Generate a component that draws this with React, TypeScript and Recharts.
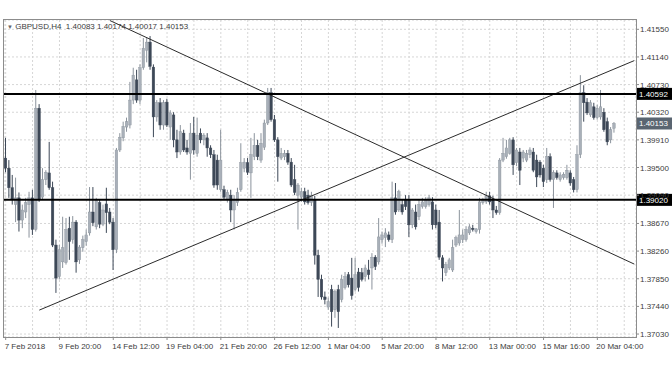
import React from 'react'
import {
  ComposedChart,
  Bar,
  XAxis,
  YAxis,
  CartesianGrid,
  ReferenceLine,
} from 'recharts'

// GBPUSD H4 candles, 7 Feb 2018 00:00 onwards
const opens = [
  1.3964, 1.3949, 1.3920, 1.3895, 1.3905, 1.3872, 1.3884, 1.3895, 1.3905, 1.3858,
  1.4038, 1.3906, 1.3932, 1.3942, 1.3920, 1.3835, 1.3788, 1.3810, 1.3809, 1.3860,
  1.3843, 1.3869, 1.3813, 1.3831, 1.3840, 1.3853, 1.3884, 1.3862, 1.3898, 1.3866,
  1.3896, 1.3884, 1.3869, 1.3828, 1.3976, 1.3994, 1.4010, 1.4013, 1.4050, 1.4080,
  1.4050, 1.4098, 1.4124, 1.4136, 1.4099, 1.4025, 1.4046, 1.4013, 1.4047, 1.4010,
  1.4028, 1.3991, 1.3973, 1.4001, 1.3979, 1.3971, 1.4001, 1.3971, 1.4001, 1.3991,
  1.3994, 1.3979, 1.3969, 1.3961, 1.3917, 1.3917, 1.3902, 1.3909, 1.3887, 1.3898,
  1.3917, 1.3949, 1.3957, 1.3942, 1.3966, 1.3983, 1.3961, 1.3980, 1.4016, 1.4061,
  1.4021, 1.3991, 1.3964, 1.3966, 1.3971, 1.3958, 1.3932, 1.3909, 1.3906, 1.3914,
  1.3909, 1.3898, 1.3902, 1.3820, 1.3784, 1.3758, 1.3743, 1.3769, 1.3739, 1.3769,
  1.3754, 1.3772, 1.3791, 1.3786, 1.3769, 1.3795, 1.3794, 1.3788, 1.3798, 1.3801,
  1.3817, 1.3810, 1.3843, 1.3846, 1.3850, 1.3843, 1.3905, 1.3887, 1.3895, 1.3902,
  1.3902, 1.3865, 1.3884, 1.3877, 1.3892, 1.3892, 1.3895, 1.3899, 1.3887, 1.3869,
  1.3816, 1.3794, 1.3801, 1.3798, 1.3835, 1.3838, 1.3843, 1.3843, 1.3853, 1.3860,
  1.3855, 1.3858, 1.3898, 1.3899, 1.3908, 1.3902, 1.3887, 1.3883, 1.3961, 1.3966,
  1.3971, 1.3991, 1.3957, 1.3973, 1.3964, 1.3961, 1.3969, 1.3973, 1.3961, 1.3958,
  1.3949, 1.3932, 1.3966, 1.3932, 1.3942, 1.3932, 1.3935, 1.3935, 1.3942, 1.3932,
  1.3917, 1.3969, 1.4061, 1.4047, 1.4028, 1.4040, 1.4024, 1.4025, 1.4032, 1.4018,
  1.3991, 1.40083,
]
const highs = [
  1.3994, 1.3961, 1.3939, 1.3935, 1.3913, 1.3895, 1.3905, 1.3914, 1.3917, 1.4065,
  1.4044, 1.3949, 1.3946, 1.3988, 1.3929, 1.3843, 1.3835, 1.3877, 1.3875, 1.3877,
  1.3878, 1.3872, 1.3835, 1.3849, 1.3858, 1.3921, 1.3921, 1.3905, 1.3902, 1.3895,
  1.3920, 1.3890, 1.3875, 1.3979, 1.4001, 1.4018, 1.4024, 1.4077, 1.4098, 1.4095,
  1.4103, 1.4142, 1.4143, 1.4145, 1.4103, 1.4050, 1.4053, 1.4050, 1.4052, 1.4035,
  1.4032, 1.4006, 1.4013, 1.4006, 1.3991, 1.4016, 1.4025, 1.4024, 1.4008, 1.4001,
  1.4001, 1.3983, 1.3976, 1.3969, 1.4006, 1.3923, 1.3917, 1.3917, 1.3909, 1.3920,
  1.3986, 1.3964, 1.3964, 1.3994, 1.4001, 1.3991, 1.4001, 1.4021, 1.4068, 1.4068,
  1.4028, 1.3995, 1.3979, 1.3976, 1.3976, 1.3964, 1.3954, 1.3927, 1.3920, 1.3920,
  1.3917, 1.3914, 1.3908, 1.3828, 1.3791, 1.3766, 1.3757, 1.3776, 1.3769, 1.3776,
  1.3791, 1.3795, 1.3795, 1.3816, 1.3816, 1.3801, 1.3801, 1.3806, 1.3813, 1.3823,
  1.3820, 1.3875, 1.3855, 1.3860, 1.3855, 1.3929, 1.3927, 1.3917, 1.3902, 1.3909,
  1.3909, 1.3890, 1.3895, 1.3902, 1.3905, 1.3906, 1.3909, 1.3906, 1.3895, 1.3887,
  1.3820, 1.3810, 1.3816, 1.3843, 1.3849, 1.3887, 1.3858, 1.3863, 1.3866, 1.3865,
  1.3860, 1.3905, 1.3905, 1.3914, 1.3914, 1.3908, 1.3893, 1.3964, 1.3994, 1.3991,
  1.3994, 1.3995, 1.3979, 1.3979, 1.3976, 1.3976, 1.3980, 1.3979, 1.3969, 1.3961,
  1.3954, 1.3979, 1.3971, 1.3946, 1.3946, 1.3943, 1.3943, 1.3954, 1.3946, 1.3936,
  1.3983, 1.4087, 1.4072, 1.4053, 1.4050, 1.4046, 1.4043, 1.4065, 1.4038, 1.4024,
  1.4010, 1.40174,
]
const lows = [
  1.3943, 1.3905, 1.3895, 1.3869, 1.3855, 1.3860, 1.3875, 1.3846, 1.3850, 1.3855,
  1.3899, 1.3902, 1.3924, 1.3917, 1.3832, 1.3764, 1.3784, 1.3801, 1.3806, 1.3813,
  1.3837, 1.3794, 1.3807, 1.3825, 1.3834, 1.3849, 1.3863, 1.3858, 1.3860, 1.3863,
  1.3853, 1.3866, 1.3798, 1.3823, 1.3973, 1.3989, 1.4003, 1.4008, 1.4044, 1.4046,
  1.4044, 1.4095, 1.4106, 1.4095, 1.3995, 1.4018, 1.4006, 1.4006, 1.4010, 1.3991,
  1.3980, 1.3964, 1.3969, 1.3973, 1.3969, 1.3932, 1.3969, 1.3966, 1.3986, 1.3983,
  1.3966, 1.3964, 1.3920, 1.3917, 1.3914, 1.3902, 1.3898, 1.3869, 1.3858, 1.3893,
  1.3914, 1.3943, 1.3939, 1.3905, 1.3961, 1.3961, 1.3957, 1.3976, 1.4013, 1.4018,
  1.3988, 1.3929, 1.3961, 1.3961, 1.3954, 1.3921, 1.3909, 1.3858, 1.3899, 1.3895,
  1.3895, 1.3893, 1.3806, 1.3758, 1.3754, 1.3747, 1.3739, 1.3714, 1.3727, 1.3712,
  1.3750, 1.3769, 1.3772, 1.3754, 1.3766, 1.3766, 1.3781, 1.3781, 1.3784, 1.3769,
  1.3798, 1.3806, 1.3837, 1.3832, 1.3840, 1.3838, 1.3880, 1.3884, 1.3880, 1.3887,
  1.3847, 1.3860, 1.3858, 1.3872, 1.3889, 1.3889, 1.3892, 1.3858, 1.3860, 1.3813,
  1.3781, 1.3789, 1.3798, 1.3795, 1.3832, 1.3834, 1.3838, 1.3840, 1.3850, 1.3855,
  1.3852, 1.3852, 1.3895, 1.3896, 1.3895, 1.3875, 1.3880, 1.3880, 1.3958, 1.3963,
  1.3969, 1.3939, 1.3952, 1.3924, 1.3958, 1.3958, 1.3964, 1.3943, 1.3921, 1.3935,
  1.3921, 1.3927, 1.3929, 1.3890, 1.3932, 1.3929, 1.3932, 1.3932, 1.3923, 1.3913,
  1.3913, 1.3964, 1.4018, 1.4028, 1.4025, 1.4021, 1.4021, 1.4021, 1.4003, 1.3983,
  1.3986, 1.40017,
]
const closes = [
  1.3949, 1.3920, 1.3902, 1.3905, 1.3872, 1.3887, 1.3898, 1.3905, 1.3858, 1.4038,
  1.3902, 1.3932, 1.3943, 1.3920, 1.3835, 1.3786, 1.3828, 1.3831, 1.3858, 1.3840,
  1.3869, 1.3810, 1.3832, 1.3843, 1.3850, 1.3884, 1.3868, 1.3902, 1.3866, 1.3887,
  1.3883, 1.3869, 1.3828, 1.3976, 1.3995, 1.4011, 1.4018, 1.4050, 1.4087, 1.4050,
  1.4098, 1.4127, 1.4136, 1.4100, 1.4025, 1.4046, 1.4013, 1.4046, 1.4013, 1.4031,
  1.3991, 1.3973, 1.4003, 1.3976, 1.3973, 1.4001, 1.3976, 1.3998, 1.3991, 1.3998,
  1.3979, 1.3969, 1.3924, 1.3924, 1.3961, 1.3906, 1.3913, 1.3887, 1.3902, 1.3913,
  1.3957, 1.3958, 1.3943, 1.3969, 1.3983, 1.3966, 1.3986, 1.4016, 1.4061, 1.4021,
  1.3991, 1.3966, 1.3971, 1.3971, 1.3958, 1.3924, 1.3913, 1.3924, 1.3914, 1.3899,
  1.3898, 1.3909, 1.3820, 1.3784, 1.3758, 1.3754, 1.3751, 1.3736, 1.3766, 1.3736,
  1.3784, 1.3788, 1.3776, 1.3760, 1.3791, 1.3772, 1.3784, 1.3801, 1.3791, 1.3817,
  1.3803, 1.3847, 1.3850, 1.3853, 1.3843, 1.3905, 1.3884, 1.3914, 1.3884, 1.3892,
  1.3865, 1.3887, 1.3862, 1.3895, 1.3899, 1.3902, 1.3905, 1.3865, 1.3865, 1.3817,
  1.3801, 1.3806, 1.3813, 1.3831, 1.3846, 1.3850, 1.3850, 1.3858, 1.3862, 1.3858,
  1.3859, 1.3899, 1.3902, 1.3908, 1.3899, 1.3887, 1.3883, 1.3961, 1.3971, 1.3979,
  1.3991, 1.3954, 1.3976, 1.3946, 1.3973, 1.3971, 1.3976, 1.3946, 1.3936, 1.3939,
  1.3929, 1.3966, 1.3932, 1.3943, 1.3935, 1.3939, 1.3940, 1.3946, 1.3927, 1.3917,
  1.3969, 1.4061, 1.4046, 1.4031, 1.4046, 1.4024, 1.4038, 1.4040, 1.4006, 1.3988,
  1.4006, 1.40153,
]

// one time label every 16 bars, starting at bar 0
const dateLabels = [
  '7 Feb 2018', '9 Feb 20:00', '14 Feb 12:00', '19 Feb 04:00', '21 Feb 20:00', '26 Feb 12:00',
  '1 Mar 04:00', '5 Mar 20:00', '8 Mar 12:00', '13 Mar 00:00', '15 Mar 16:00', '20 Mar 04:00',
]
const priceTicks = [
  1.37030, 1.37440, 1.37850, 1.38260, 1.38670, 1.39090,
  1.39500, 1.39910, 1.40320, 1.40730, 1.41140, 1.41550,
]
const levelLines = [1.40592, 1.39020]
const lastPrice = 1.40153
const headerText = 'GBPUSD,H4  1.40083 1.40174 1.40017 1.40153'

// trendlines as (bar index, price) pairs
const fallingLine = [{ x: 31, y: 1.4168 }, { x: 187, y: 1.38067 }]
const risingLine = [{ x: 10, y: 1.37385 }, { x: 187, y: 1.41086 }]

const SLOTS = 188
const LABEL_EVERY = 16
const GRID_EVERY = 8
const PRICE_MIN = 1.36986
const PRICE_MAX = 1.41688

const FONT = '"Liberation Sans", Arial, sans-serif'
const TEXT = '#3c3c3c'
const FRAME = '#8c8c8c'
const BULL = '#a9b0b9'
const BULL_EDGE = '#8b939c'
const BEAR = '#3d4857'

const rows = Array.from({ length: SLOTS }, (_, i) => (
  i < closes.length
    ? { idx: i, range: [lows[i], highs[i]], open: opens[i], close: closes[i] }
    : { idx: i }
))

const gridTicks = Array.from({ length: Math.ceil(SLOTS / GRID_EVERY) }, (_, i) => i * GRID_EVERY)

function Candle(props: any) {
  const { x, y, width, height, payload } = props
  if (!payload || payload.open == null) return <g />
  const lo = payload.range[0]
  const hi = payload.range[1]
  const top = Math.min(y, y + height)
  const h = Math.abs(height)
  const k = hi > lo ? h / (hi - lo) : 0
  const yO = top + (hi - payload.open) * k
  const yC = top + (hi - payload.close) * k
  const cx = x + width / 2
  const up = payload.close >= payload.open
  const bw = 2.6
  const bodyTop = Math.min(yO, yC)
  const bodyH = Math.max(Math.abs(yC - yO), 1)
  return (
    <g>
      <line x1={cx} x2={cx} y1={top} y2={top + h} stroke={up ? BULL_EDGE : BEAR} strokeWidth={1} />
      <rect
        x={cx - bw / 2}
        y={bodyTop}
        width={bw}
        height={bodyH}
        fill={up ? BULL : BEAR}
        stroke={up ? BULL_EDGE : BEAR}
        strokeWidth={0.4}
      />
    </g>
  )
}

function DateTick(props: any) {
  const { x, y, payload } = props
  const i = payload.value
  if (i % LABEL_EVERY !== 0 || !dateLabels[i / LABEL_EVERY]) return <g />
  return (
    <g>
      <line x1={x} x2={x} y1={y} y2={y + 3} stroke={FRAME} />
      <text x={x - 1} y={y + 11.5} fontSize={8} fontFamily={FONT} fill={TEXT}>
        {dateLabels[i / LABEL_EVERY]}
      </text>
    </g>
  )
}

function PriceTick(props: any) {
  const { x, y, payload } = props
  return (
    <g>
      <line x1={x} x2={x + 3} y1={y} y2={y} stroke={FRAME} />
      <text x={x + 4} y={y + 3} fontSize={8} fontFamily={FONT} fill={TEXT}>
        {Number(payload.value).toFixed(5)}
      </text>
    </g>
  )
}

function priceBox(value: number, fill: string) {
  return (props: any) => {
    const vb = props.viewBox || {}
    const right = (vb.x || 0) + (vb.width || 0)
    const cy = vb.y || 0
    return (
      <g>
        <rect x={right + 1} y={cy - 6} width={36} height={12} fill={fill} />
        <text x={right + 3} y={cy + 3} fontSize={8} fontFamily={FONT} fill="#ffffff">
          {value.toFixed(5)}
        </text>
      </g>
    )
  }
}

export default function App() {
  return (
    <div style={{ position: 'absolute', left: 0, top: 0, width: 672, height: 372, background: '#fff' }}>
      <ComposedChart
        width={672}
        height={372}
        data={rows}
        margin={{ top: 20, right: 0, bottom: 0, left: 4 }}
        barCategoryGap={0}
        barGap={0}
      >
        <CartesianGrid stroke="#d6d6d6" strokeDasharray="2 2" />
        <XAxis
          dataKey="idx"
          type="category"
          ticks={gridTicks}
          interval={0}
          height={35}
          tickSize={0}
          tickMargin={0}
          tickLine={false}
          axisLine={false}
          tick={DateTick}
        />
        <YAxis
          orientation="right"
          type="number"
          domain={[PRICE_MIN, PRICE_MAX]}
          allowDataOverflow
          ticks={priceTicks}
          interval={0}
          width={36}
          tickSize={0}
          tickMargin={0}
          tickLine={false}
          axisLine={false}
          tick={PriceTick}
        />
        <Bar dataKey="range" shape={Candle} isAnimationActive={false} />
        <ReferenceLine segment={fallingLine} stroke="#2b2b2b" strokeWidth={1} />
        <ReferenceLine segment={risingLine} stroke="#2b2b2b" strokeWidth={1} />
        {levelLines.map((v) => (
          <ReferenceLine key={v} y={v} stroke="#000" strokeWidth={2} label={priceBox(v, '#000')} />
        ))}
        <ReferenceLine y={lastPrice} stroke="none" label={priceBox(lastPrice, '#5a6571')} />
      </ComposedChart>
      <div
        style={{
          position: 'absolute', left: 3, top: 19, width: 634, height: 319,
          boxSizing: 'border-box', border: `1px solid ${FRAME}`, pointerEvents: 'none',
        }}
      />
      <div
        style={{
          position: 'absolute', left: 7, top: 22, fontSize: 8, fontFamily: FONT,
          color: TEXT, whiteSpace: 'pre', lineHeight: '10px',
        }}
      >
        <span style={{ fontSize: 6, color: '#666' }}>▼</span>
        {' ' + headerText}
      </div>
    </div>
  )
}
